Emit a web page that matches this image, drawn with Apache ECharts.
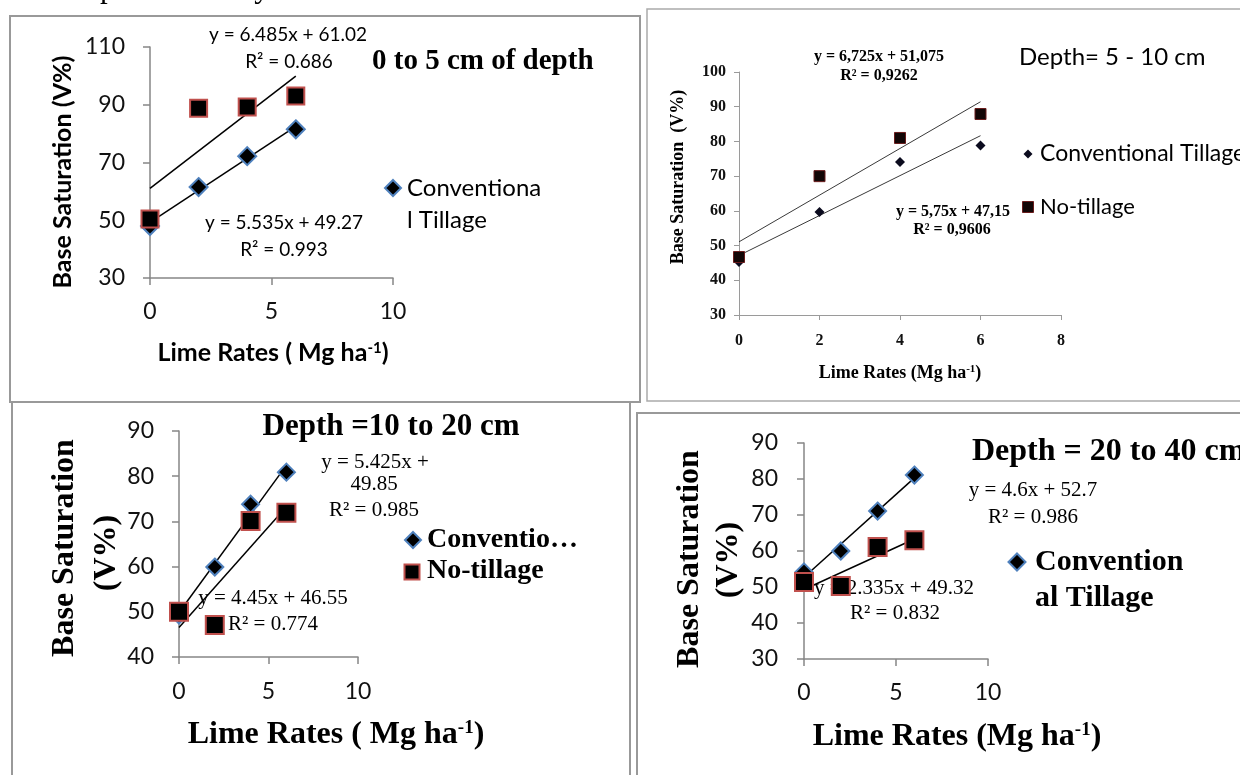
<!DOCTYPE html>
<html>
<head>
<meta charset="utf-8">
<script src="https://cdn.jsdelivr.net/npm/echarts@6/dist/echarts.min.js"></script>
<style>
html,body{margin:0;padding:0;background:#fff;}
#chart{width:1240px;height:775px;}
</style>
</head>
<body>
<div id="chart"></div>
<script>
// ---------- data ----------
const limeRates = [0, 2, 4, 6];
const trendX = [0, 6];

// Panel A: 0 to 5 cm
const conv0to5 = [48.0, 61.5, 72.2, 81.5];
const noTill0to5 = [50.4, 88.8, 89.2, 93.0];
const trendConv0to5 = [49.27, 82.48];
const trendNoTill0to5 = [61.02, 99.93];

// Panel B: 5 - 10 cm
const conv5to10 = [45.3, 59.7, 74.1, 78.8];
const noTill5to10 = [46.7, 70.0, 81.0, 87.9];
const trendConv5to10 = [47.15, 81.65];
const trendNoTill5to10 = [51.075, 91.43];

// Panel C: 10 to 20 cm
const conv10to20 = [49.3, 59.9, 73.8, 80.9];
const noTill10to20 = [50.0, 47.1, 70.1, 71.9];
const trendConv10to20 = [49.85, 82.40];
const trendNoTill10to20 = [46.55, 73.25];

// Panel D: 20 to 40 cm
const conv20to40 = [54.2, 60.0, 71.1, 81.1];
const noTill20to40 = [51.4, 50.3, 61.1, 63.0];
const trendConv20to40 = [52.7, 80.3];
const trendNoTill20to40 = [49.32, 63.33];

// axis ranges [min, max, interval]
const xRangeA = [0, 10, 5], yRangeA = [30, 110, 20];
const xRangeB = [0, 8, 2],  yRangeB = [30, 100, 10];
const xRangeC = [0, 10, 5], yRangeC = [40, 90, 10];
const xRangeD = [0, 10, 5], yRangeD = [30, 90, 10];

// ---------- helpers ----------
const pair = (xs, ys) => xs.map((x, i) => [x, ys[i]]);
const SANS = 'Lato, "Open Sans", sans-serif';
const SERIF = '"Liberation Serif", "DejaVu Serif", serif';

function axisCommon(gi, r, o, margin) {
  return {
    type: 'value', gridIndex: gi, min: r[0], max: r[1], interval: r[2],
    splitLine: {show: false},
    axisLine: {show: true, onZero: false, lineStyle: {color: o.axisColor, width: o.axisWidth}},
    axisTick: {show: true, length: o.tick, lineStyle: {color: o.axisColor, width: o.axisWidth}},
    axisLabel: {margin: margin, color: o.labelColor, fontFamily: o.font, fontSize: o.fontSize, fontWeight: o.fontWeight}
  };
}
const axisA = {axisColor: '#868686', axisWidth: 1.5, tick: 7, labelColor: '#111', font: SANS, fontSize: 23, fontWeight: 'normal'};
const axisCD = {axisColor: '#868686', axisWidth: 1.5, tick: 7, labelColor: '#111', font: SANS, fontSize: 23, fontWeight: 'normal'};
const axisB = {axisColor: '#9a9a9a', axisWidth: 1, tick: 5, labelColor: '#111', font: SERIF, fontSize: 16, fontWeight: 'bold'};

const diamondStyle = {color: '#000', borderColor: '#4f81bd', borderWidth: 2, opacity: 1};
const squareStyle = {color: '#000', borderColor: '#c0504d', borderWidth: 2, opacity: 1};

function scatter(name, gi, data, sym, size, style, z) {
  return {type: 'scatter', name, xAxisIndex: gi, yAxisIndex: gi, data, symbol: sym, symbolSize: size,
          itemStyle: style, z: z, silent: true};
}
function trend(gi, data, color, width) {
  return {type: 'line', xAxisIndex: gi, yAxisIndex: gi, data, symbol: 'none', silent: true, z: 1,
          lineStyle: {color, width}};
}

// ---------- graphic text helpers ----------
function txt(text, x, y, font, size, weight, align, extra) {
  const st = Object.assign({text, x: 0, y: 0, fill: '#000', font: `${weight} ${size}px ${font}`,
    align: align || 'center', verticalAlign: 'middle'}, extra || {});
  return {type: 'text', x, y, style: st, silent: true};
}
function vtxt(text, x, y, font, size, weight) {
  return {type: 'text', x, y, rotation: Math.PI / 2, silent: true,
    style: {text, x: 0, y: 0, fill: '#000', font: `${weight} ${size}px ${font}`, align: 'center', verticalAlign: 'middle'}};
}
function supTxt(base, sup, x, y, font, size, weight, supSize) {
  return {type: 'text', x, y, silent: true,
    style: {text: base + '{s|' + sup + '}{b|)}', x: 0, y: 0, fill: '#000', font: `${weight} ${size}px ${font}`,
      align: 'center', verticalAlign: 'middle',
      rich: {s: {fontSize: supSize, fontFamily: font, fontWeight: weight, verticalAlign: 'top', fill: '#000'},
             b: {fontSize: size, fontFamily: font, fontWeight: weight, fill: '#000'}}}};
}
function diamond(cx, cy, s, fill, stroke, lw) {
  const h = s / 2;
  return {type: 'polygon', silent: true, shape: {points: [[cx, cy - h], [cx + h, cy], [cx, cy + h], [cx - h, cy]]},
    style: {fill, stroke, lineWidth: lw}};
}
function square(cx, cy, s, fill, stroke, lw) {
  return {type: 'rect', silent: true, shape: {x: cx - s / 2, y: cy - s / 2, width: s, height: s},
    style: {fill, stroke, lineWidth: lw}};
}
function frame(x, y, w, h, color, lw) {
  return {type: 'rect', silent: true, shape: {x, y, width: w, height: h}, style: {fill: 'none', stroke: color, lineWidth: lw}};
}

const chart = echarts.init(document.getElementById('chart'), null, {renderer: 'canvas'});

const option = {
  animation: false,
  backgroundColor: '#fff',
  grid: [
    {left: 150, top: 47, width: 243, height: 231},
    {left: 739, top: 72, width: 322, height: 243},
    {left: 179, top: 431, width: 179, height: 226},
    {left: 804, top: 443, width: 184, height: 216}
  ],
  xAxis: [
    axisCommon(0, xRangeA, axisA, 22),
    axisCommon(1, xRangeB, axisB, 18),
    axisCommon(2, xRangeC, axisCD, 23),
    axisCommon(3, xRangeD, axisCD, 22)
  ],
  yAxis: [
    axisCommon(0, yRangeA, axisA, 25),
    axisCommon(1, yRangeB, axisB, 13),
    axisCommon(2, yRangeC, axisCD, 25),
    axisCommon(3, yRangeD, axisCD, 26)
  ],
  series: [
    // A
    trend(0, pair(trendX, trendNoTill0to5), '#000', 1.5),
    trend(0, pair(trendX, trendConv0to5), '#000', 1.5),
    scatter('Conventional Tillage', 0, pair(limeRates, conv0to5), 'diamond', 18, diamondStyle, 3),
    scatter('No-tillage', 0, pair(limeRates, noTill0to5), 'rect', 17, squareStyle, 4),
    // B
    trend(1, pair(trendX, trendNoTill5to10), '#3a3a3a', 1),
    trend(1, pair(trendX, trendConv5to10), '#3a3a3a', 1),
    scatter('Conventional Tillage', 1, pair(limeRates, conv5to10), 'diamond', 10, {color: '#0b0b1e', opacity: 1}, 3),
    scatter('No-tillage', 1, pair(limeRates, noTill5to10), 'rect', 11, {color: '#120606', borderColor: '#6a1c1c', borderWidth: 1, opacity: 1}, 4),
    // C
    trend(2, pair(trendX, trendConv10to20), '#000', 1.5),
    trend(2, pair(trendX, trendNoTill10to20), '#000', 1.5),
    scatter('Conventional Tillage', 2, pair(limeRates, conv10to20), 'diamond', 17, diamondStyle, 3),
    scatter('No-tillage', 2, pair(limeRates, noTill10to20), 'rect', 18, squareStyle, 4),
    // D
    trend(3, pair(trendX, trendConv20to40), '#000', 1.5),
    trend(3, pair(trendX, trendNoTill20to40), '#000', 1.5),
    scatter('Conventional Tillage', 3, pair(limeRates, conv20to40), 'diamond', 17, diamondStyle, 3),
    scatter('No-tillage', 3, pair(limeRates, noTill20to40), 'rect', 18, squareStyle, 4)
  ],
  graphic: {elements: [
    // page text cut at the top
    txt('al production system.', 70, 4, SERIF, 31, 'normal', 'left', {verticalAlign: 'bottom'}),
    // frames
    frame(10, 16, 630, 386, '#999', 2),
    frame(647, 9, 620, 392, '#aaa', 1.5),
    frame(12, 402, 618, 420, '#999', 2),
    frame(637, 413, 620, 420, '#999', 2),

    // ----- Panel A -----
    txt('0 to 5 cm of depth', 372, 62, SERIF, 29, 'bold', 'left'),
    txt('y = 6.485x + 61.02', 288, 35, SANS, 19, 'normal'),
    txt('R\u00b2 = 0.686', 289, 62, SANS, 19, 'normal'),
    txt('y = 5.535x + 49.27', 284, 223, SANS, 19, 'normal'),
    txt('R\u00b2 = 0.993', 284, 250, SANS, 19, 'normal'),
    diamond(393, 188, 16, '#000', '#4f81bd', 2),
    txt('Conventiona', 407, 188, SANS, 24, 'normal', 'left'),
    txt('l Tillage', 407, 220, SANS, 24, 'normal', 'left'),
    vtxt('Base Saturation (V%)', 63, 172, SANS, 25, 'bold'),
    supTxt('Lime Rates ( Mg ha', '-1', 273, 353, SANS, 25, 'bold', 15),

    // ----- Panel B -----
    txt('Depth= 5 - 10 cm', 1019, 57, SANS, 24, 'normal', 'left'),
    txt('y = 6,725x + 51,075', 879, 57, SERIF, 16, 'bold'),
    txt('R\u00b2 = 0,9262', 879, 76, SERIF, 16, 'bold'),
    txt('y = 5,75x + 47,15', 953, 212, SERIF, 16, 'bold'),
    txt('R\u00b2 = 0,9606', 952, 230, SERIF, 16, 'bold'),
    diamond(1028, 154, 9, '#0b0b1e', null, 0),
    txt('Conventional Tillage', 1040, 154, SANS, 23, 'normal', 'left'),
    square(1028, 207, 11, '#120606', '#6a1c1c', 1),
    txt('No-tillage', 1040, 207, SANS, 22, 'normal', 'left'),
    vtxt('Base Saturation  (V%)', 678, 177, SERIF, 18, 'bold'),
    supTxt('Lime Rates (Mg ha', '-1', 900, 373, SERIF, 18, 'bold', 11),

    // ----- Panel C -----
    txt('Depth =10 to 20 cm', 391, 427, SERIF, 31, 'bold'),
    txt('y = 5.425x +', 375, 462, SERIF, 21, 'normal'),
    txt('49.85', 374, 484, SERIF, 21, 'normal'),
    txt('R\u00b2 = 0.985', 374, 510, SERIF, 21, 'normal'),
    txt('y = 4.45x + 46.55', 273, 598, SERIF, 21, 'normal'),
    txt('R\u00b2 = 0.774', 273, 624, SERIF, 21, 'normal'),
    diamond(413, 540, 16, '#000', '#4f81bd', 2),
    txt('Conventio\u2026', 427, 540, SERIF, 28, 'bold', 'left'),
    square(412, 572, 15, '#000', '#c0504d', 2),
    txt('No-tillage', 427, 571, SERIF, 28, 'bold', 'left'),
    vtxt('Base Saturation', 65, 548, SERIF, 32, 'bold'),
    vtxt('(V%)', 107, 553, SERIF, 32, 'bold'),
    supTxt('Lime Rates ( Mg ha', '-1', 336, 735, SERIF, 32, 'bold', 19),

    // ----- Panel D -----
    txt('Depth = 20 to 40 cm', 972, 452, SERIF, 32, 'bold', 'left'),
    txt('y = 4.6x + 52.7', 1033, 490, SERIF, 21, 'normal'),
    txt('R\u00b2 = 0.986', 1033, 517, SERIF, 21, 'normal'),
    txt('y = 2.335x + 49.32', 894, 588, SERIF, 21, 'normal'),
    txt('R\u00b2 = 0.832', 895, 613, SERIF, 21, 'normal'),
    diamond(1017, 562, 17, '#000', '#4f81bd', 2),
    txt('Convention', 1035, 562, SERIF, 30, 'bold', 'left'),
    txt('al Tillage', 1035, 598, SERIF, 30, 'bold', 'left'),
    vtxt('Base Saturation', 690, 559, SERIF, 32, 'bold'),
    vtxt('(V%)', 729, 560, SERIF, 32, 'bold'),
    supTxt('Lime Rates (Mg ha', '-1', 957, 737, SERIF, 32, 'bold', 19)
  ]}
};
chart.setOption(option);
</script>
</body>
</html>
